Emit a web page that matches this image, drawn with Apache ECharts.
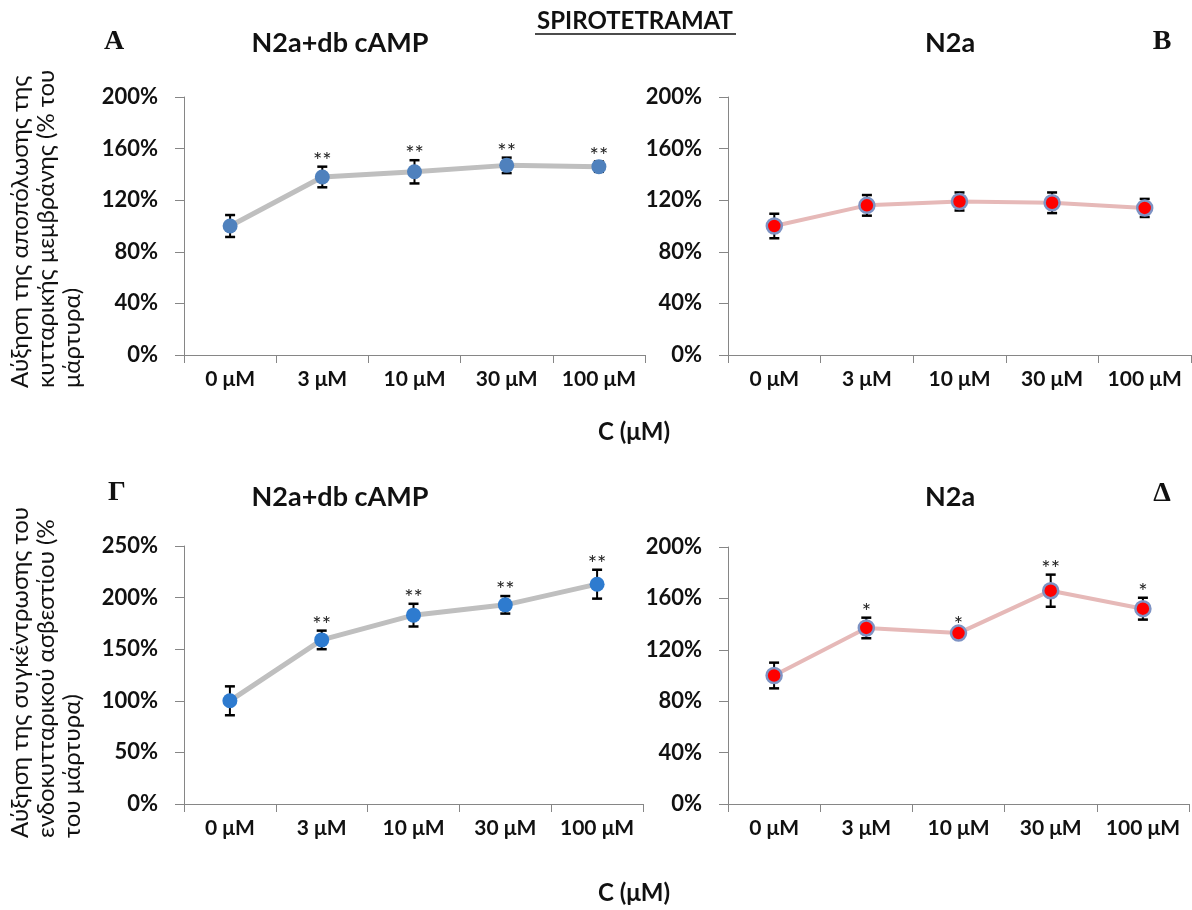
<!DOCTYPE html>
<html><head><meta charset="utf-8">
<script src="https://cdn.jsdelivr.net/npm/echarts@6/dist/echarts.min.js"></script>
<style>html,body{margin:0;padding:0;background:#fff}#c{width:1192px;height:910px}</style>
</head><body><div id="c"></div>
<script>
const categories = ['0 μM','3 μM','10 μM','30 μM','100 μM'];
// Panel A: N2a+db cAMP (membrane depolarisation)
const valuesA = [100, 138, 142, 147, 146];
const errA    = [8.5, 8, 9, 6, 4];
const starsA  = ['', '**', '**', '**', '**'];
// Panel B: N2a (membrane depolarisation)
const valuesB = [100, 116, 119, 118, 114];
const errB    = [9.5, 8, 7, 8, 7];
const starsB  = ['', '', '', '', ''];
// Panel Γ: N2a+db cAMP (intracellular calcium)
const valuesG = [100, 159, 183, 193, 213];
const errG    = [14, 9, 11, 8.5, 14];
const starsG  = ['', '**', '**', '**', '**'];
// Panel Δ: N2a (intracellular calcium)
const valuesD = [100, 137, 133, 166, 152];
const errD    = [10, 8, 2, 12.5, 8.5];
const starsD  = ['', '*', '*', '**', '*'];

const FONT = 'Lato, "Open Sans", sans-serif';
const AX = '#868686';

const chart = echarts.init(document.getElementById('c'), null, {renderer: 'canvas'});

const grids = [
  {left: 184, top: 97,  width: 461, height: 258},
  {left: 728, top: 97,  width: 463, height: 258},
  {left: 184, top: 546, width: 459, height: 258},
  {left: 728, top: 547, width: 461, height: 257}
];

function xAx(i) {
  return {
    type: 'category', gridIndex: i, data: categories,
    axisLine: {lineStyle: {color: AX, width: 1}},
    axisTick: {show: true, length: 8, lineStyle: {color: AX}},
    axisLabel: {interval: 0, margin: 14, fontFamily: FONT, fontSize: 21, fontWeight: 'bold', color: '#111'},
    splitLine: {show: false}
  };
}
function yAx(i, max, interval) {
  return {
    type: 'value', gridIndex: i, min: 0, max: max, interval: interval,
    axisLine: {show: true, lineStyle: {color: AX, width: 1}},
    axisTick: {show: true, length: 9, lineStyle: {color: AX}},
    axisLabel: {margin: 26, fontFamily: FONT, fontSize: 22, fontWeight: 'bold', color: '#111', formatter: '{value}%'},
    splitLine: {show: false}
  };
}

function lineSeries(i, vals, lineColor, lineWidth, markerColor, borderColor, borderWidth) {
  return {
    type: 'line', xAxisIndex: i, yAxisIndex: i, data: vals, z: 4,
    symbol: 'circle', symbolSize: 15,
    lineStyle: {color: lineColor, width: lineWidth},
    itemStyle: {color: markerColor, borderColor: borderColor, borderWidth: borderWidth},
    emphasis: {disabled: true}, animation: false
  };
}

function errSeries(i, vals, errs, stars) {
  return {
    type: 'custom', xAxisIndex: i, yAxisIndex: i, z: 3, animation: false,
    data: vals.map((v, k) => [k, v, errs[k]]),
    encode: {x: 0, y: 1},
    renderItem: function (params, api) {
      const k = api.value(0), v = api.value(1), e = api.value(2);
      const top = api.coord([k, v + e]);
      const bot = api.coord([k, v - e]);
      const cw = 5;
      const st = {stroke: '#000', lineWidth: 2};
      const children = [
        {type: 'line', shape: {x1: top[0], y1: top[1], x2: bot[0], y2: bot[1]}, style: st},
        {type: 'line', shape: {x1: top[0] - cw, y1: top[1], x2: top[0] + cw, y2: top[1]}, style: {stroke: '#000', lineWidth: 2.5}},
        {type: 'line', shape: {x1: bot[0] - cw, y1: bot[1], x2: bot[0] + cw, y2: bot[1]}, style: {stroke: '#000', lineWidth: 2.5}}
      ];
      const s = stars[params.dataIndex];
      if (s) {
        children.push({type: 'text', x: top[0], y: top[1] - 6,
          style: {text: s, align: 'center', verticalAlign: 'middle', font: '22px ' + FONT, fill: '#222'}});
      }
      return {type: 'group', children: children};
    }
  };
}

function vText(x, y, txt) {
  return {type: 'text', x: x, y: y, rotation: Math.PI / 2,
    style: {text: txt, align: 'left', verticalAlign: 'middle', font: '24px ' + FONT, fill: '#111'}};
}
function label(x, y, txt, font, weight) {
  return {type: 'text', x: x, y: y,
    style: {text: txt, align: 'center', verticalAlign: 'middle', font: (weight || '') + ' ' + font, fill: '#111'}};
}

const graphics = [
  label(635, 21, 'SPIROTETRAMAT', '24px ' + FONT, 'bold'),
  {type: 'line', shape: {x1: 535, y1: 34, x2: 736, y2: 34}, style: {stroke: '#111', lineWidth: 1.5}},
  label(114, 42, 'A', '28px "Liberation Serif", serif', 'bold'),
  label(1162, 42, 'B', '28px "Liberation Serif", serif', 'bold'),
  label(117, 493, 'Γ', '28px "Liberation Serif", serif', 'bold'),
  label(1162, 494, 'Δ', '28px "Liberation Serif", serif', 'bold'),
  label(340, 43, 'N2a+db cAMP', '27px ' + FONT, 'bold'),
  label(950, 43, 'N2a', '27px ' + FONT, 'bold'),
  label(340, 497, 'N2a+db cAMP', '27px ' + FONT, 'bold'),
  label(950, 497, 'N2a', '27px ' + FONT, 'bold'),
  label(634, 432, 'C (μM)', '24px ' + FONT, 'bold'),
  label(634, 893, 'C (μM)', '24px ' + FONT, 'bold'),
  vText(20, 388, 'Αύξηση της αποπόλωσης της'),
  vText(46, 388, 'κυτταρικής μεμβράνης (% του'),
  vText(72, 388, 'μάρτυρα)'),
  vText(20, 838, 'Αύξηση της συγκέντρωσης του'),
  vText(46, 838, 'ενδοκυτταρικού ασβεστίου (%'),
  vText(72, 838, 'του μάρτυρα)')
];

chart.setOption({
  animation: false,
  backgroundColor: '#fff',
  grid: grids,
  xAxis: [xAx(0), xAx(1), xAx(2), xAx(3)],
  yAxis: [yAx(0, 200, 40), yAx(1, 200, 40), yAx(2, 250, 50), yAx(3, 200, 40)],
  series: [
    errSeries(0, valuesA, errA, starsA),
    lineSeries(0, valuesA, '#BFBFBF', 5, '#4F81BD', '#4F81BD', 0),
    errSeries(1, valuesB, errB, starsB),
    lineSeries(1, valuesB, '#E6B9B8', 4, '#FF0000', '#7E93C4', 2.5),
    errSeries(2, valuesG, errG, starsG),
    lineSeries(2, valuesG, '#BFBFBF', 5, '#2E7BCF', '#2E7BCF', 0),
    errSeries(3, valuesD, errD, starsD),
    lineSeries(3, valuesD, '#E6B9B8', 4, '#FF0000', '#7E93C4', 2.5)
  ],
  graphic: graphics
});
</script></body></html>
